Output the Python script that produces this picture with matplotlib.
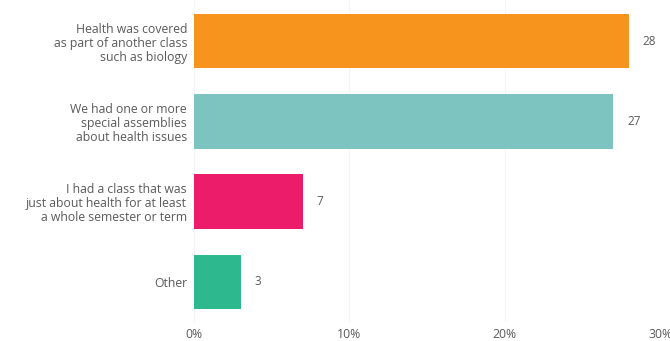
import matplotlib.pyplot as plt
from matplotlib.ticker import FuncFormatter

categories = [
    "Health was covered\nas part of another class\nsuch as biology",
    "We had one or more\nspecial assemblies\nabout health issues",
    "I had a class that was\njust about health for at least\na whole semester or term",
    "Other",
]
values = [28, 27, 7, 3]
colors = ["#F7941E", "#7DC3BF", "#EC1C6B", "#2DB88E"]
xticks = [0, 10, 20, 30]

plt.rcParams['font.family'] = ['Open Sans', 'DejaVu Sans']
text_color = "#5a5a5a"

fig = plt.figure(figsize=(6.7, 3.41), dpi=100)
ax = fig.add_axes([0.2896, 0.0557, 0.6955, 0.9413])

pos = list(range(len(values)))
ax.barh(pos, values, height=0.68, color=colors, zorder=2)

for p, v in zip(pos, values):
    ax.annotate(str(v), (v, p), xytext=(10, 0), textcoords='offset points',
                va='center', ha='left', fontsize=8.5, color=text_color)

ax.set_xlim(0, 30)
ax.set_ylim(3.5, -0.5)
ax.set_xticks(xticks)
ax.xaxis.set_major_formatter(FuncFormatter(lambda x, _: f"{x:.0f}%"))
ax.set_yticks(pos)
ax.set_yticklabels(categories, fontsize=8.8, color=text_color, linespacing=1.1)
ax.tick_params(axis='x', length=0, pad=4, labelsize=8.8, labelcolor=text_color)
ax.tick_params(axis='y', length=0, pad=5)
ax.grid(axis='x', color='#f4f4f4', linewidth=0.8, zorder=0)
for s in ax.spines.values():
    s.set_visible(False)

fig.savefig('out.png', dpi=100)
